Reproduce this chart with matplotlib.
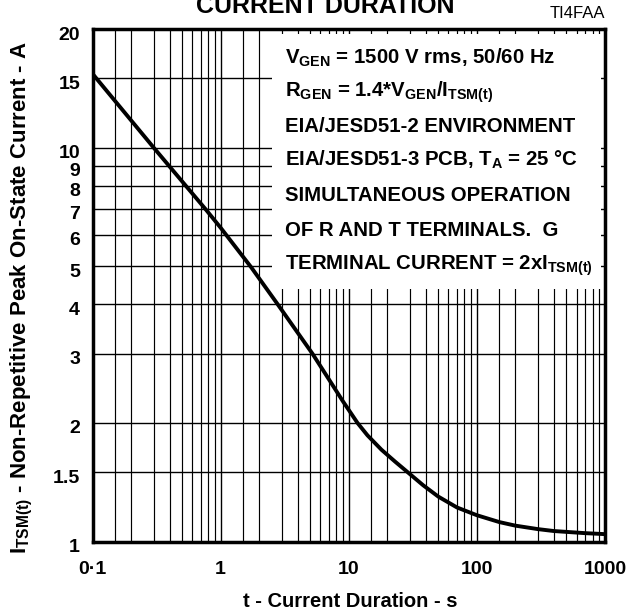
import numpy as np
import matplotlib.pyplot as plt
from matplotlib.patches import Rectangle
from matplotlib.transforms import ScaledTranslation

plt.rcParams['font.family'] = 'Liberation Sans'
plt.rcParams['font.weight'] = 'bold'
plt.rcParams['mathtext.fontset'] = 'custom'
plt.rcParams['mathtext.rm'] = 'Liberation Sans:bold'
plt.rcParams['mathtext.sf'] = 'Liberation Sans'
plt.rcParams['mathtext.default'] = 'rm'

# curve
duration_s = [0.1, 0.3, 0.77, 1.0, 1.73, 2.79, 5.2, 7.0, 9.0, 11.7, 14, 18, 23,
              29.5, 38, 50, 70, 100, 150, 200, 300, 400, 700, 1000]
current_a = [15.4, 10.0, 6.95, 6.26, 4.97, 4.0, 3.0, 2.58, 2.27, 2.0, 1.86, 1.71, 1.595,
             1.49, 1.39, 1.30, 1.22, 1.166, 1.12, 1.097, 1.075, 1.063, 1.05, 1.044]

x_major = [0.1, 1, 10, 100, 1000]
x_major_labels = ['0\u00b71', '1', '10', '100', '1000']
x_minor = [m * d for d in [0.1, 1, 10, 100] for m in [1.5, 2, 3, 4, 5, 6, 7, 8, 9]]
y_ticks = [1, 1.5, 2, 3, 4, 5, 6, 7, 8, 9, 10, 15, 20]
y_labels = ['1', '1.5', '2', '3', '4', '5', '6', '7', '8', '9', '10', '15', '20']

notes = [
    r'V$_{\mathrm{GEN}}$ = 1500 V rms, 50/60 Hz',
    r'R$_{\mathrm{GEN}}$ = 1.4*V$_{\mathrm{GEN}}$/I$_{\mathsf{TSM(t)}}$',
    'EIA/JESD51-2 ENVIRONMENT',
    r'EIA/JESD51-3 PCB, T$_{\mathrm{A}}$ = 25 °C',
    'SIMULTANEOUS OPERATION',
    'OF R AND T TERMINALS.  G',
    r'TERMINAL CURRENT = 2xI$_{\mathrm{TSM(t)}}$',
]

W, H = 629, 611
fig = plt.figure(figsize=(W / 100, H / 100), dpi=100)
ax = fig.add_axes([92.5 / W, 1 - 541.5 / H, 512.5 / W, 512.5 / H])

ax.plot(duration_s, current_a, color='black', lw=2.8, zorder=4,
        solid_joinstyle='round', solid_capstyle='butt')

ax.set_xscale('log')
ax.set_yscale('log')
ax.set_xlim(0.1, 1000)
ax.set_ylim(1, 20)

ax.set_xticks(x_major, x_major_labels)
ax.set_xticks(x_minor, minor=True)
ax.set_xticklabels([], minor=True)
ax.set_yticks(y_ticks, y_labels)
ax.set_yticks([], minor=True)
ax.tick_params(which='both', length=0, labelsize=14)
ax.tick_params(axis='x', pad=14)
ax.tick_params(axis='y', pad=9)
for lab in ax.get_yticklabels():
    lab.set_transform(lab.get_transform() + ScaledTranslation(0, -4 / 100, fig.dpi_scale_trans))

ax.set_axisbelow(True)
ax.grid(which='major', color='black', lw=1.0)
ax.grid(which='minor', axis='x', color='black', lw=0.85)
for s in ax.spines.values():
    s.set_linewidth(2.5)

# white panel behind the notes
ax.add_patch(Rectangle(((272 - 92.5) / 512.5, (541.5 - 289) / 512.5),
                       (601 - 272) / 512.5, (289 - 34) / 512.5,
                       transform=ax.transAxes, facecolor='white',
                       edgecolor='none', zorder=2))

baselines = [64, 97, 132, 166, 201, 236, 270]
for txt, yb in zip(notes, baselines):
    ax.text((285 - 92.5) / 512.5, (541.5 - yb) / 512.5, txt, transform=ax.transAxes,
            fontsize=14.7, fontweight='bold', va='baseline', ha='left', zorder=5)

ax.set_xlabel('t - Current Duration - s', fontsize=14.5, fontweight='bold', va='baseline')
ax.xaxis.set_label_coords((350 - 92.5) / 512.5, (541.5 - 607) / 512.5)
ax.set_ylabel(r'I$_{\mathsf{TSM(t)}}$ - Non-Repetitive Peak On-State Current - A',
              fontsize=16, fontweight='bold')
ax.yaxis.set_label_coords((35 - 92.5) / 512.5, (541.5 - 297) / 512.5)

fig.text(325 / W, 1 - 13 / H, 'CURRENT DURATION', fontsize=18, fontweight='bold',
         ha='center', va='baseline')
fig.text(605 / W, 1 - 18 / H, 'TI4FAA', fontsize=12, fontweight='normal',
         ha='right', va='baseline')

fig.savefig('out.png', dpi=100)
